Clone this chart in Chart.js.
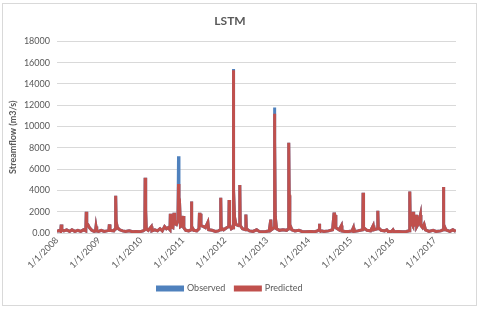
<!DOCTYPE html>
<html>
<head>
<meta charset="utf-8">
<script src="https://cdn.jsdelivr.net/npm/chart.js@4"></script>
<style>
  html, body { margin: 0; padding: 0; background: #fff; }
  #wrap { width: 480px; height: 309px; }
</style>
</head>
<body>
<div id="wrap"><canvas id="lstmChart" width="480" height="309"></canvas></div>
<script>
// sample dates, observed and predicted streamflow (m3/s)
const dates = [
  '2008-01-01','2008-01-25','2008-02-02','2008-02-07','2008-02-12','2008-03-01','2008-03-25','2008-04-20','2008-05-10','2008-06-05','2008-07-01','2008-07-25','2008-08-20','2008-09-08','2008-09-12','2008-09-16','2008-09-25','2008-10-10','2008-10-30','2008-11-20','2008-12-02','2008-12-06','2008-12-12','2008-12-28',
  '2009-01-20','2009-02-15','2009-03-10','2009-03-28','2009-04-01','2009-04-06','2009-05-10','2009-05-22','2009-05-26','2009-05-30','2009-06-10','2009-06-30','2009-07-25','2009-08-20','2009-09-20','2009-10-20','2009-11-20','2009-12-20',
  '2010-01-20','2010-02-03','2010-02-06','2010-02-09','2010-02-12','2010-02-16','2010-03-05','2010-04-01','2010-04-06','2010-05-01','2010-05-25','2010-06-15','2010-07-05','2010-07-25','2010-08-10','2010-08-25','2010-09-10','2010-09-13','2010-09-17','2010-10-05','2010-10-15','2010-10-20','2010-11-05','2010-11-18','2010-11-23','2010-11-27','2010-12-05','2010-12-10','2010-12-25',
  '2011-01-03','2011-01-08','2011-01-25','2011-02-20','2011-03-12','2011-03-15','2011-03-19','2011-04-05','2011-05-01','2011-05-20','2011-05-24','2011-05-28','2011-06-01','2011-06-06','2011-06-30','2011-07-15','2011-08-05','2011-08-12','2011-09-10','2011-10-10','2011-11-05','2011-11-22','2011-11-25','2011-11-29','2011-12-20',
  '2012-01-15','2012-02-03','2012-02-06','2012-02-10','2012-02-25','2012-03-11','2012-03-14','2012-03-17','2012-03-24','2012-04-05','2012-04-25','2012-05-06','2012-05-09','2012-05-13','2012-06-01','2012-06-28','2012-07-01','2012-07-05','2012-08-01','2012-09-01','2012-10-03','2012-10-25','2012-11-20','2012-12-20',
  '2013-01-20','2013-02-03','2013-02-07','2013-03-04','2013-03-07','2013-03-10','2013-03-14','2013-03-25','2013-04-20','2013-05-20','2013-06-20','2013-07-06','2013-07-09','2013-07-13','2013-07-18','2013-08-05','2013-09-01','2013-10-05','2013-11-01','2013-12-01',
  '2014-01-15','2014-02-20','2014-03-15','2014-03-29','2014-04-01','2014-04-05','2014-05-10','2014-06-20','2014-07-25','2014-08-07','2014-08-11','2014-08-17','2014-08-22','2014-09-20','2014-10-10','2014-10-14','2014-11-10','2014-12-10',
  '2015-01-10','2015-01-22','2015-01-27','2015-03-01','2015-04-13','2015-04-16','2015-04-20','2015-05-20','2015-06-20','2015-07-13','2015-07-18','2015-08-18','2015-08-22','2015-08-26','2015-09-20','2015-10-20','2015-11-08','2015-11-20','2015-12-20',
  '2016-01-01','2016-01-10','2016-02-15','2016-03-20','2016-04-25','2016-05-23','2016-05-26','2016-05-30','2016-06-08','2016-06-22','2016-06-25','2016-06-29','2016-07-10','2016-07-22','2016-07-26','2016-08-10','2016-08-27','2016-08-31','2016-09-15','2016-09-28','2016-10-10','2016-11-10','2016-12-15',
  '2017-01-10','2017-02-20','2017-03-12','2017-03-15','2017-03-19','2017-04-05','2017-05-10','2017-06-05','2017-07-01'
]
const observed = [
  150,250,150,790,300,200,300,150,300,150,250,150,300,200,2000,900,800,500,250,150,200,600,200,150,
  250,150,200,250,800,250,200,400,3500,1000,500,300,200,150,200,120,150,120,
  200,300,5200,1000,2100,400,250,600,200,300,200,400,200,600,400,500,300,1800,600,500,1900,900,800,1200,7200,1500,2000,600,700,
  1600,500,250,200,300,2950,600,250,200,400,1900,800,1800,700,600,500,1000,300,250,150,200,300,3300,500,300,
  500,600,3100,800,400,500,15400,4000,1500,800,700,800,4500,700,400,300,1740,400,200,150,300,150,120,150,
  200,1260,300,500,11800,8600,1500,400,250,300,250,400,8470,3500,800,300,200,250,150,120,
  150,120,200,300,880,250,150,200,300,1920,700,1700,500,300,700,200,150,150,
  200,500,150,200,300,3790,500,250,200,700,300,400,2090,500,250,200,300,150,150,
  300,120,150,120,150,200,3890,1200,1000,700,2000,700,800,1700,600,900,1700,700,500,800,300,150,250,
  150,200,300,4330,800,300,150,300,150
]
const predicted = [
  150,250,150,790,300,200,300,150,300,150,250,150,300,200,2000,900,800,500,250,150,200,600,200,150,
  250,150,200,250,800,250,200,400,3500,1100,500,300,200,150,200,120,150,120,
  200,300,5200,1000,2200,400,250,600,200,300,200,400,200,600,400,500,300,1800,600,500,1900,900,800,1200,4600,1500,2000,600,700,
  1600,500,250,200,300,2950,600,250,200,400,1900,800,1800,700,600,500,1000,300,250,150,200,300,3300,500,300,
  500,600,3100,800,400,500,15300,4000,1500,800,700,800,4500,700,400,300,1740,400,200,150,300,150,120,150,
  200,1260,300,500,11200,8600,1500,400,250,300,250,400,8470,3600,800,300,200,250,150,120,
  150,120,200,300,880,250,150,200,300,1920,700,1700,500,300,700,200,150,150,
  200,500,150,200,300,3790,500,250,200,700,300,400,2090,500,250,200,300,150,150,
  300,120,150,120,150,200,3890,1200,1000,700,2000,700,800,1700,600,900,1700,700,500,800,300,150,250,
  150,200,300,4330,800,300,150,300,150
]
const yearTicks = [2008, 2009, 2010, 2011, 2012, 2013, 2014, 2015, 2016, 2017]

// turn a date string into a fractional year for the linear x axis
function toYear(s) {
  const d = new Date(s + 'T00:00:00Z')
  const y = d.getUTCFullYear()
  const start = Date.UTC(y, 0, 1)
  const end = Date.UTC(y + 1, 0, 1)
  return y + (d.getTime() - start) / (end - start)
}

const textColor = '#595959'
const fontFamily = 'Lato, "Open Sans", sans-serif'

const framePlugin = {
  id: 'frame',
  beforeDraw(chart) {
    const ctx = chart.ctx
    ctx.save()
    ctx.fillStyle = '#fff'
    ctx.fillRect(0, 0, chart.width, chart.height)
    ctx.strokeStyle = '#d9d9d9'
    ctx.lineWidth = 1
    ctx.strokeRect(2.5, 3.5, 474, 302)
    ctx.restore()
  }
}

new Chart(document.getElementById('lstmChart'), {
  type: 'line',
  data: {
    datasets: [{
      label: 'Observed',
      data: dates.map((d, i) => ({ x: toYear(d), y: observed[i] })),
      borderColor: '#4F81BD',
      backgroundColor: '#4F81BD',
      borderWidth: 3,
      pointRadius: 0,
      tension: 0,
      order: 1
    },
    {
      label: 'Predicted',
      data: dates.map((d, i) => ({ x: toYear(d), y: predicted[i] })),
      borderColor: '#C0504D',
      backgroundColor: '#C0504D',
      borderWidth: 3,
      pointRadius: 0,
      tension: 0,
      order: 0
    }]
  },
  options: {
    responsive: false,
    animation: false,
    layout: {
      padding: { left: 4, right: 24, top: 4, bottom: 6 }
    },
    plugins: {
      title: {
        display: true,
        text: 'LSTM',
        color: textColor,
        font: { family: fontFamily, size: 12, weight: 'bold' },
        padding: { top: 10, bottom: 13 }
      },
      legend: {
        display: true,
        position: 'bottom',
        labels: {
          color: textColor,
          font: { family: fontFamily, size: 9 },
          boxWidth: 25,
          boxHeight: 3,
          padding: 10,
          sort: (a, b) => a.datasetIndex - b.datasetIndex
        }
      },
      tooltip: { enabled: false }
    },
    scales: {
      x: {
        type: 'linear',
        min: 2008,
        max: 2017.5,
        afterBuildTicks: (scale) => {
          scale.ticks = yearTicks.map((v) => ({ value: v }))
        },
        afterFit: (scale) => { scale.height = 41 },
        ticks: {
          color: textColor,
          font: { family: fontFamily, size: 9 },
          maxRotation: 45,
          minRotation: 45,
          padding: 2,
          callback: (v) => '1/1/' + v
        },
        grid: { display: false, drawTicks: false },
        border: { display: false }
      },
      y: {
        min: 0,
        max: 18000,
        afterFit: (scale) => { scale.width = 53 },
        ticks: {
          stepSize: 2000,
          color: textColor,
          font: { family: fontFamily, size: 9 },
          padding: 7,
          callback: (v) => v === 0 ? '0.00' : v
        },
        title: {
          display: true,
          text: 'Streamflow (m3/s)',
          color: textColor,
          font: { family: fontFamily, size: 9, weight: 'bold' },
          padding: { top: 4, bottom: 0 }
        },
        grid: { color: '#d9d9d9', drawTicks: false },
        border: { display: false }
      }
    }
  },
  plugins: [framePlugin]
})
</script>
</body>
</html>
